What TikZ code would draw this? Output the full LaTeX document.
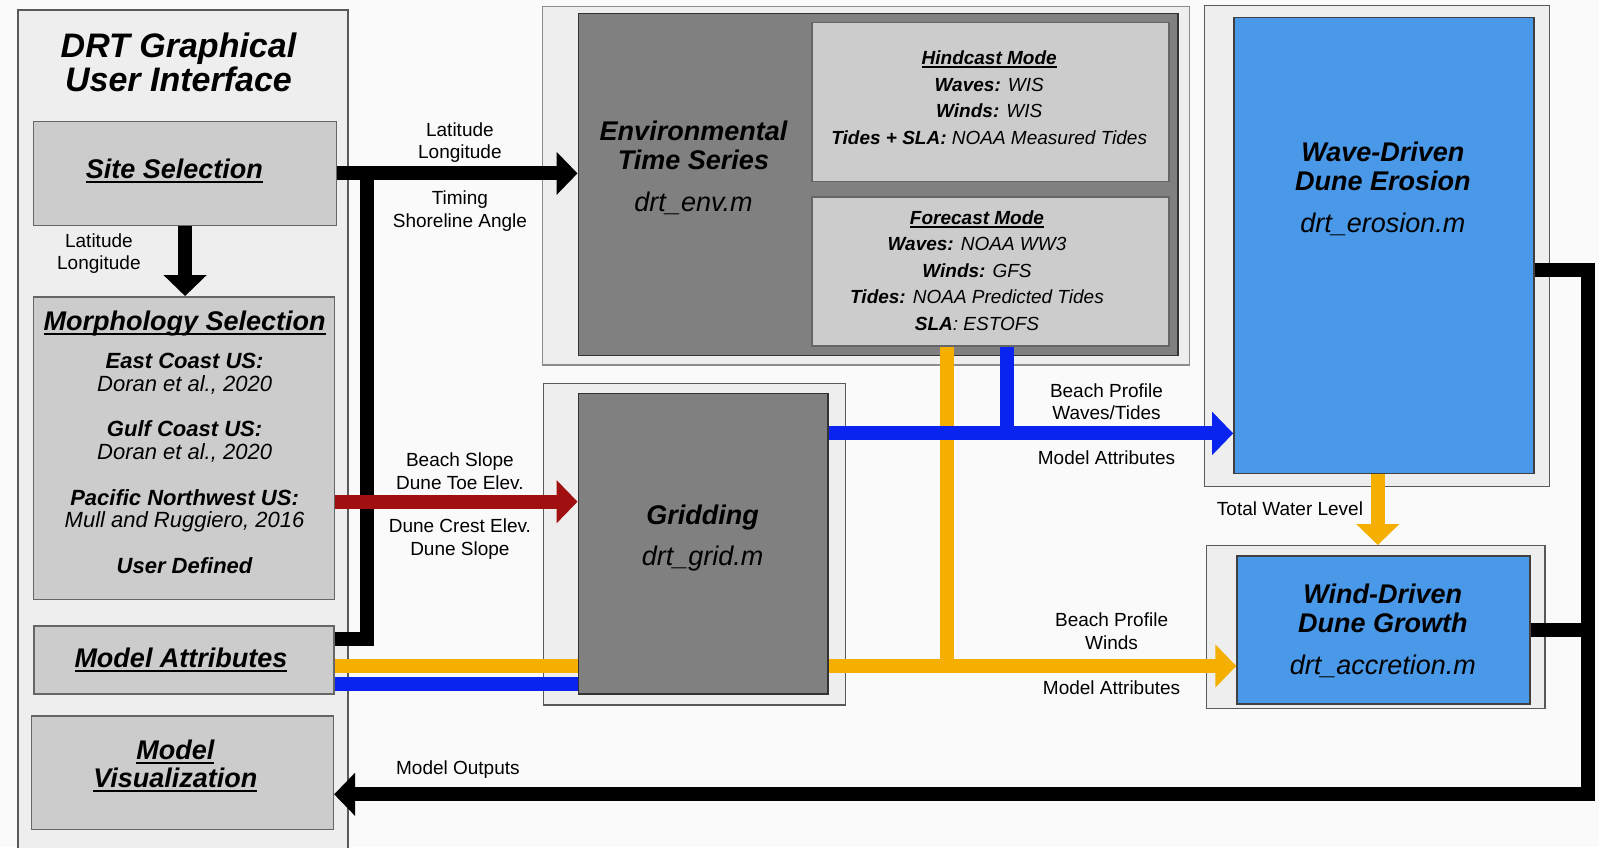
\documentclass[tikz,border=0pt]{standalone}
\usepackage{fontspec}
\setmainfont{Liberation Sans}
\usetikzlibrary{arrows.meta}

\definecolor{bgwhite}{HTML}{FAFAFA}
\definecolor{ltgray}{HTML}{EEEEEE}
\definecolor{boxgray}{HTML}{CCCCCC}
\definecolor{dkgray}{HTML}{808080}
\definecolor{modelblue}{HTML}{4A98E8}
\definecolor{pipeyellow}{HTML}{F4AF00}
\definecolor{pipeblue}{HTML}{0A24F0}
\definecolor{pipered}{HTML}{A01010}

\newsavebox{\undlbox}
\newcommand{\undl}[1]{\sbox\undlbox{#1}\rlap{\rule[-0.17em]{\wd\undlbox}{0.08em}}\usebox\undlbox}

\begin{document}
\begin{tikzpicture}[
    x=1pt, y=-1pt,
    panel/.style={draw=black!65, fill=ltgray, line width=1.2pt, inner sep=0pt},
    box/.style={draw=black!60, fill=boxgray, line width=1.5pt, inner sep=0pt},
    dark/.style={draw=black!80, fill=dkgray, line width=1.5pt, inner sep=0pt},
    model/.style={draw=black!75, fill=modelblue, line width=1.5pt, inner sep=0pt},
    pipe/.style={line width=14pt},
    >={Triangle[length=21pt, width=42pt]},
    title/.style={align=center, font=\fontsize{34}{34}\selectfont\bfseries\itshape},
    head/.style={align=center, font=\fontsize{27}{28.6}\selectfont\bfseries\itshape},
    item/.style={align=center, font=\fontsize{22}{22.7}\selectfont\itshape},
    mode/.style={align=center, font=\fontsize{19}{26.5}\selectfont\itshape},
    lbl/.style={align=center, font=\fontsize{19}{22.5}\selectfont}
]
    % 背景
    \fill[bgwhite] (0,0) rectangle (1599,847);
    \useasboundingbox (0,0) rectangle (1599,847);

    % 节点定义 (左侧界面)
    \node[panel, minimum width=330pt, minimum height=842pt] (GUI) at (183,431) {};
    \node[title] (Title) at (178.5,62.7) {DRT Graphical\\User Interface};
    \node[box, minimum width=302.8pt, minimum height=104pt] (Site) at (185.1,173.4) {};
    \node[head] (SiteTxt) at (174.4,171) {\undl{Site Selection}};
    \node[box, minimum width=300.8pt, minimum height=302.8pt] (Morph) at (184.1,448.2) {};
    \node[item] (MorphTxt) at (184.6,442) {{\fontsize{27}{28}\selectfont\bfseries\undl{Morphology Selection}}\\[16pt]
        {\bfseries East Coast US:}\\Doran et al., 2020\\[22.7pt]
        {\bfseries Gulf Coast US:}\\Doran et al., 2020\\[22.7pt]
        {\bfseries Pacific Northwest US:}\\Mull and Ruggiero, 2016\\[22.7pt]
        {\bfseries User Defined}};
    \node[box, minimum width=300.3pt, minimum height=67.8pt] (Attr) at (183.9,660.1) {};
    \node[head] (AttrTxt) at (181,660) {\undl{Model Attributes}};
    \node[box, minimum width=301.7pt, minimum height=113.3pt] (Vis) at (182.5,772.7) {};
    \node[head] (VisTxt) at (175.4,766) {\undl{Model}\\\undl{Visualization}};

    % 环境时间序列
    \node[panel, draw=black!45, minimum width=646.6pt, minimum height=358.9pt] (EnvBG) at (865.8,185.6) {};
    \node[dark, minimum width=599.7pt, minimum height=342.4pt] (Env) at (878.1,184.5) {};
    \node[head] (EnvTxt) at (693.5,168) {Environmental\\Time Series\\[14.2pt]{\mdseries drt\_env.m}};
    \node[box, minimum width=356.9pt, minimum height=159.1pt] (Hind) at (990.3,102) {};
    \node[mode] (HindTxt) at (989.2,97.5) {{\bfseries\undl{Hindcast Mode}}\\{\bfseries Waves:} WIS\\{\bfseries Winds:} WIS\\{\bfseries Tides + SLA:} NOAA Measured Tides};
    \node[box, minimum width=356.9pt, minimum height=148.9pt] (Fore) at (990.3,271.3) {};
    \node[mode] (ForeTxt) at (977,270.5) {{\bfseries\undl{Forecast Mode}}\\{\bfseries Waves:} NOAA WW3\\{\bfseries Winds:} GFS\\{\bfseries Tides:} NOAA Predicted Tides\\{\bfseries SLA}: ESTOFS};

    % 网格划分
    \node[panel, minimum width=301.8pt, minimum height=321.6pt] (GridBG) at (694.5,544.2) {};
    \node[dark, minimum width=249.8pt, minimum height=300.4pt] (Grid) at (703.2,543.8) {};
    \node[head] (GridTxt) at (702.6,538) {Gridding\\[13.2pt]{\mdseries drt\_grid.m}};

    % 侵蚀与堆积模型
    \node[panel, minimum width=344.7pt, minimum height=481.3pt] (EroBG) at (1376.8,245.8) {};
    \node[model, minimum width=299.9pt, minimum height=455.9pt] (Ero) at (1383.9,245.3) {};
    \node[head] (EroTxt) at (1382.8,189) {Wave-Driven\\Dune Erosion\\[14.2pt]{\mdseries drt\_erosion.m}};
    \node[panel, minimum width=338.6pt, minimum height=163.2pt] (AccBG) at (1375.7,627.2) {};
    \node[model, minimum width=292.7pt, minimum height=147.9pt] (Acc) at (1383.4,629.8) {};
    \node[head] (AccTxt) at (1382.8,631) {Wind-Driven\\Dune Growth\\[13.2pt]{\mdseries drt\_accretion.m}};

    % 连接点
    \coordinate (J) at (366.7,0);
    \coordinate (MA1) at ([yshift=21pt]Attr.east);
    \coordinate (MA2) at ([yshift=-6pt]Attr.east);
    \coordinate (MA3) at ([yshift=-23.6pt]Attr.east);
    \coordinate (MS) at ([yshift=-53.5pt]Morph.east);
    \coordinate (GB) at ([yshift=110.4pt]Grid.east);
    \coordinate (GY) at ([yshift=-122.2pt]Grid.east);
    \coordinate (FY) at ([xshift=-43.3pt]Fore.south);
    \coordinate (FB) at ([xshift=16.2pt]Fore.south);
    \coordinate (EY) at ([xshift=-6.1pt]Ero.south);
    \coordinate (EO) at ([yshift=-24.9pt]Ero.east);
    \coordinate (OUT) at (1587.8,794.3);

    % 1. 站点选择指向环境时间序列, 并连到模型属性
    \draw[pipe,->] (Site.east) -- (Site.east -| Env.west);
    \draw[pipe] (Site.east -| J) |- (MA1);

    % 2. 站点选择指向形态选择
    \draw[pipe,->] (Site.south) -- (Site.south |- Morph.north);

    % 3. 形态选择指向网格划分
    \draw[pipe,pipered,->] (MS) -- (MS -| Grid.west);

    % 4. 模型属性连到网格划分
    \draw[pipe,pipeyellow] (MA2) -- (MA2 -| Grid.west);
    \draw[pipe,pipeblue] (MA3) -- (MA3 -| Grid.west);

    % 5. 网格与预报数据指向两个模型
    \draw[pipe,pipeyellow] (FY) -- (FY |- GY);
    \draw[pipe,pipeyellow,->] (GY) -- (GY -| Acc.west);
    \draw[pipe,pipeblue] (FB) -- (FB |- GB);
    \draw[pipe,pipeblue,->] (GB) -- (GB -| Ero.west);

    % 6. 侵蚀指向堆积
    \draw[pipe,pipeyellow,->] (EY) -- (EY |- AccBG.north);

    % 7. 模型输出回到可视化
    \draw[pipe,->] (EO) -| (OUT) -- (OUT -| Vis.east);
    \draw[pipe] (Acc.east) -- (Acc.east -| OUT);

    % 标签
    \node[lbl] (LatLon1) at (459.9,142.5) {Latitude\\Longitude};
    \node[lbl] (Timing) at (459.9,211) {Timing\\Shoreline Angle};
    \node[lbl] (LatLon2) at (98.9,253.7) {Latitude\\Longitude};
    \node[lbl] (Slope1) at (459.9,471) {Beach Slope\\Dune Toe Elev.};
    \node[lbl] (Slope2) at (459.9,539.3) {Dune Crest Elev.\\Dune Slope};
    \node[lbl] (Prof1) at (1106.5,401.6) {Beach Profile\\Waves/Tides};
    \node[lbl] (Attr1) at (1106.5,457.7) {Model Attributes};
    \node[lbl] (Prof2) at (1111.6,631.1) {Beach Profile\\Winds};
    \node[lbl] (Attr2) at (1111.6,688.1) {Model Attributes};
    \node[lbl] (TWL) at (1290,508.7) {Total Water Level};
    \node[lbl] (Out) at (457.9,769.7) {Model Outputs};

\end{tikzpicture}
\end{document}
